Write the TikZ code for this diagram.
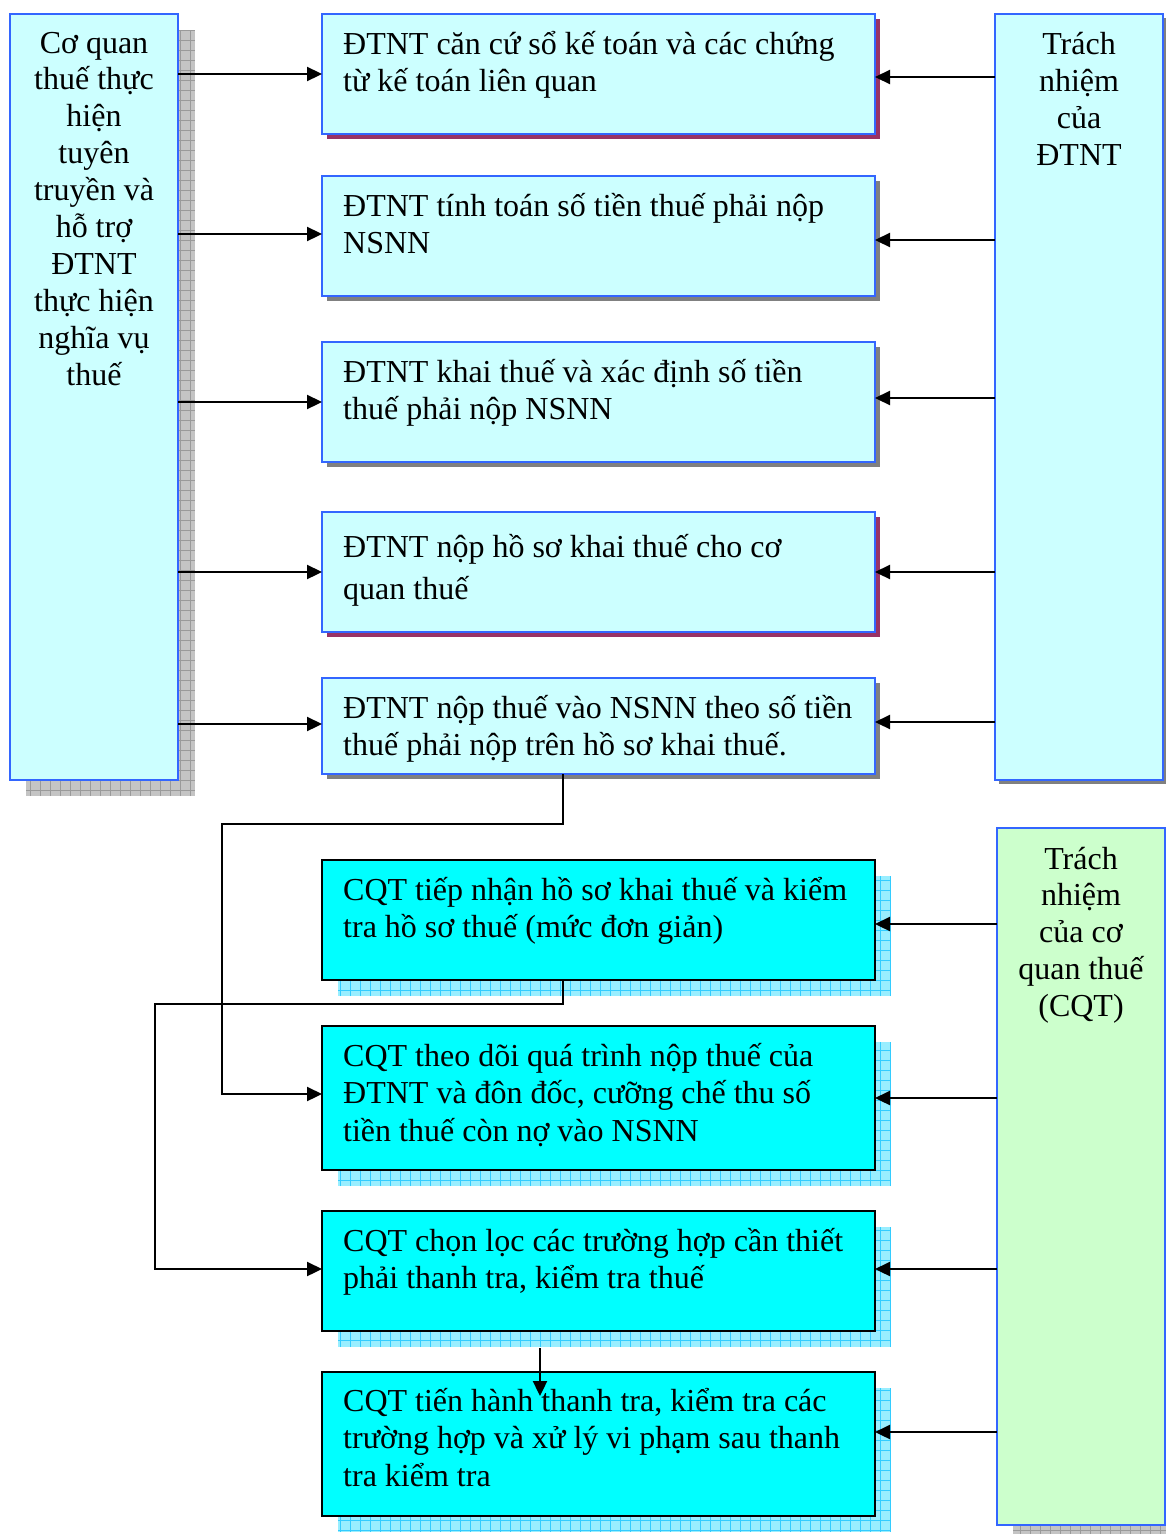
\documentclass[tikz,border=0pt]{standalone}
\usepackage{fontspec}
\setmainfont{Liberation Serif}
\usetikzlibrary{arrows.meta}
\definecolor{lcyan}{HTML}{CCFFFF}
\definecolor{bord}{HTML}{3366FF}
\definecolor{fcyan}{HTML}{00FFFF}
\definecolor{lgreen}{HTML}{CCFFCC}
\definecolor{maroon}{HTML}{993366}
\definecolor{shgrey}{HTML}{808080}
\definecolor{hgfill}{HTML}{C4C4C4}
\definecolor{hgline}{HTML}{9A9A9A}
\definecolor{hbfill}{HTML}{99EEFF}
\definecolor{hbline}{HTML}{33CCFF}
\newcommand\mainsz{\fontsize{32}{37.5}\selectfont}
\tikzset{
  bx/.style={draw, anchor=north west, inner sep=0pt, outer sep=0pt},
  topbox/.style={bx, draw=bord, fill=lcyan, line width=2pt},
  sidebox/.style={bx, draw=bord, line width=2pt},
  cqtbox/.style={bx, draw=black, fill=fcyan, line width=2.5pt},
  arr/.style={line width=2.3pt, -{Triangle[length=15pt,width=14pt]}},
  txt/.style={inner sep=0pt, font=\mainsz, anchor=base west},
  ctxt/.style={inner sep=0pt, font=\mainsz, anchor=base},
}
\newcommand\lefttext[1]{\parbox[t]{540pt}{\raggedright #1}}
\newcommand\midtext[1]{\parbox[t]{168pt}{\centering #1}}
\begin{document}
\begin{tikzpicture}[x=1pt,y=-1pt]
\clip (0,0) rectangle (1166,1534);
\fill[white] (0,0) rectangle (1166,1534);

% ---- shadows ----
\fill[hgfill] (26,30) rectangle (195,796);
\draw[hgline, line width=0.8pt, step=10pt] (26,30) grid (195,796);
\fill[shgrey] (999,18) rectangle (1168,784);
\fill[hgfill] (1013,844) rectangle (1181,1541);
\draw[hgline, line width=0.8pt, step=10pt] (1013,844) grid (1181,1541);
\fill[maroon] (327,19) rectangle (880,139);
\fill[shgrey] (327,181) rectangle (880,301);
\fill[shgrey] (327,347) rectangle (880,467);
\fill[maroon] (327,517) rectangle (880,637);
\fill[shgrey] (327,683) rectangle (880,779);
\foreach \ya/\yb in {876/996, 1042/1186, 1227/1347, 1388/1532}{
  \fill[hbfill] (338,\ya) rectangle (891,\yb);
  \draw[hbline, line width=0.8pt, step=10pt] (338,\ya) grid (891,\yb);
}

% ---- boxes ----
\node[sidebox, fill=lcyan, minimum width=168pt, minimum height=766pt] (L) at (10,14) {};
\node[sidebox, fill=lcyan, minimum width=168pt, minimum height=766pt] (R) at (995,14) {};
\node[sidebox, fill=lgreen, minimum width=168pt, minimum height=697pt] (G) at (997,828) {};

\node[topbox, minimum width=553pt, minimum height=120pt] (b1) at (322,14) {};
\node[topbox, minimum width=553pt, minimum height=120pt] (b2) at (322,176) {};
\node[topbox, minimum width=553pt, minimum height=120pt] (b3) at (322,342) {};
\node[topbox, minimum width=553pt, minimum height=120pt] (b4) at (322,512) {};
\node[topbox, minimum width=553pt, minimum height=96pt] (b5) at (322,678) {};

\node[cqtbox, minimum width=553pt, minimum height=120pt] (b6) at (322,860) {};
\node[cqtbox, minimum width=553pt, minimum height=144pt] (b7) at (322,1026) {};
\node[cqtbox, minimum width=553pt, minimum height=120pt] (b8) at (322,1211) {};
\node[cqtbox, minimum width=553pt, minimum height=144pt] (b9) at (322,1372) {};

% ---- texts ----
\node[ctxt] (tL) at (94,53) {\midtext{\baselineskip=36.9pt Cơ quan\\thuế thực\\hiện\\tuyên\\truyền và\\hỗ trợ\\ĐTNT\\thực hiện\\nghĩa vụ\\thuế}};
\node[ctxt] (tR) at (1079,54) {\midtext{\baselineskip=37pt Trách\\nhiệm\\của\\ĐTNT}};
\node[ctxt] (tG) at (1081,869) {\midtext{\baselineskip=36.9pt Trách\\nhiệm\\của cơ\\quan thuế\\(CQT)}};

\node[txt] (t1) at (343,54) {\lefttext{ĐTNT căn cứ sổ kế toán và các chứng\\từ kế toán liên quan}};
\node[txt] (t2) at (343,216) {\lefttext{ĐTNT tính toán số tiền thuế phải nộp\\NSNN}};
\node[txt] (t3) at (343,382) {\lefttext{ĐTNT khai thuế và xác định số tiền\\thuế phải nộp NSNN}};
\node[txt] (t4) at (343,557) {\lefttext{\baselineskip=42pt ĐTNT nộp hồ sơ khai thuế cho cơ\\quan thuế}};
\node[txt] (t5) at (343,718) {\lefttext{ĐTNT nộp thuế vào NSNN theo số tiền\\thuế phải nộp trên hồ sơ khai thuế.}};
\node[txt] (t6) at (343,900) {\lefttext{CQT tiếp nhận hồ sơ khai thuế và kiểm\\tra hồ sơ thuế (mức đơn giản)}};
\node[txt] (t7) at (343,1066) {\lefttext{CQT theo dõi quá trình nộp thuế của\\ĐTNT và đôn đốc, cưỡng chế thu số\\tiền thuế còn nợ vào NSNN}};
\node[txt] (t8) at (343,1251) {\lefttext{CQT chọn lọc các trường hợp cần thiết\\phải thanh tra, kiểm tra thuế}};
\node[txt] (t9) at (343,1411) {\lefttext{CQT tiến hành thanh tra, kiểm tra các\\trường hợp và xử lý vi phạm sau thanh\\tra kiểm tra}};

% ---- arrows from left ----
\draw[arr] (L.east |- b1.west) -- (b1.west);
\coordinate (q2) at ([yshift=2pt]b2.west);
\draw[arr] (L.east |- q2) -- (q2);
\draw[arr] (L.east |- b3.west) -- (b3.west);
\draw[arr] (L.east |- b4.west) -- (b4.west);
\coordinate (q5) at ([yshift=2pt]b5.west);
\draw[arr] (L.east |- q5) -- (q5);
% ---- arrows from right ----
\coordinate (p1) at ([yshift=-3pt]b1.east);
\coordinate (p2) at ([yshift=-4pt]b2.east);
\coordinate (p3) at ([yshift=4pt]b3.east);
\coordinate (p5) at ([yshift=4pt]b5.east);
\coordinate (p6) at ([yshift=-4pt]b6.east);
\coordinate (p8) at ([yshift=2pt]b8.east);
\coordinate (p9) at ([yshift=12pt]b9.east);
\draw[arr] (R.west |- p1) -- (p1);
\draw[arr] (R.west |- p2) -- (p2);
\draw[arr] (R.west |- p3) -- (p3);
\draw[arr] (R.west |- b4.east) -- (b4.east);
\draw[arr] (R.west |- p5) -- (p5);
\draw[arr] (G.west |- p6) -- (p6);
\draw[arr] (G.west |- b7.east) -- (b7.east);
\draw[arr] (G.west |- p8) -- (p8);
\draw[arr] (G.west |- p9) -- (p9);

% ---- connectors ----
\coordinate (k1) at (563,824);
\coordinate (k2) at (222,824);
\coordinate (k3) at (563,1004);
\coordinate (k4) at (155,1004);
\coordinate (k5) at (540,1348);
\coordinate (k6) at (540,1396);
\coordinate (k8) at ([yshift=4pt]b7.west);
\coordinate (k9) at ([yshift=2pt]b8.west);
\draw[arr] (b5.south -| k1) -- (k1) -- (k2) |- (k8);
\draw[arr] (b6.south -| k3) -- (k3) -- (k4) |- (k9);
\draw[arr] (k5) -- (k6);
\end{tikzpicture}
\end{document}
